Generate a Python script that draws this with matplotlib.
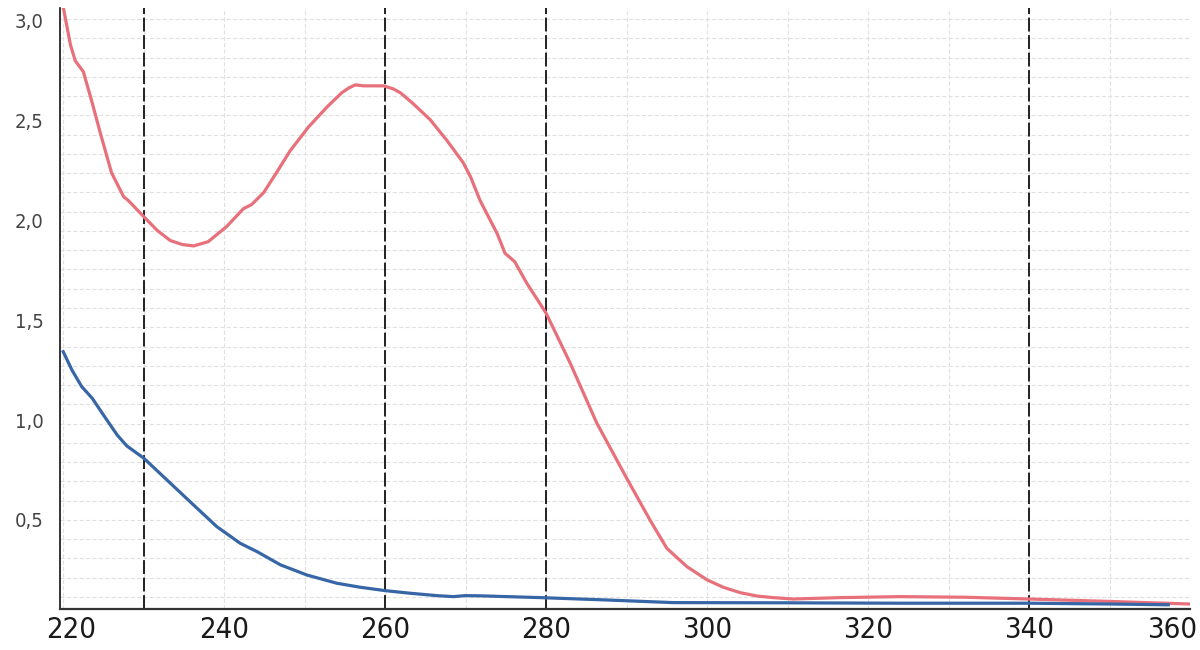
import matplotlib
matplotlib.use("Agg")
import matplotlib.pyplot as plt
from matplotlib import font_manager as fm
from matplotlib.ticker import FixedLocator, MultipleLocator, FuncFormatter
import matplotlib.transforms as mtransforms
import numpy as np

# ---------------- data ----------------
red_x = [220.0, 220.9, 221.5, 222.5, 223.6, 224.6, 226.0, 227.5, 228.1, 230.0,
         231.7, 233.3, 234.8, 236.2, 238.0, 240.3, 242.4, 243.4, 244.9, 246.5,
         248.2, 250.5, 252.8, 254.6, 255.5, 256.3, 257.3, 259.8, 261.0, 261.9,
         263.5, 265.6, 267.7, 269.7, 270.6, 271.8, 273.9, 274.9, 276.1, 277.6,
         280.0, 283.0, 286.3, 290.0, 292.9, 295.0, 297.5, 300.0, 302.0, 304.1,
         306.2, 308.2, 310.7, 316.5, 324.0, 332.0, 340.0, 350.0, 360.0]
red_y = [3.07, 2.88, 2.80, 2.746, 2.59, 2.44, 2.24, 2.12, 2.10, 2.02,
         1.95, 1.90, 1.88, 1.873, 1.894, 1.97, 2.06, 2.08, 2.14, 2.24,
         2.35, 2.47, 2.57, 2.64, 2.665, 2.68, 2.675, 2.675, 2.66, 2.64,
         2.585, 2.505, 2.40, 2.29, 2.22, 2.10, 1.936, 1.836, 1.794, 1.686,
         1.536, 1.285, 0.985, 0.71, 0.50, 0.358, 0.266, 0.20, 0.163, 0.136,
         0.119, 0.111, 0.104, 0.111, 0.116, 0.113, 0.104, 0.092, 0.079]

blue_x = [220.0, 221.1, 222.3, 223.6, 225.0, 226.7, 227.9, 230.0, 232.9, 236.2,
          239.1, 242.0, 244.1, 247.0, 250.3, 254.0, 256.9, 260.0, 263.1, 266.4,
          268.5, 269.9, 271.8, 279.3, 287.0, 295.8, 310.0, 324.0, 340.0, 350.0,
          357.3]
blue_y = [1.343, 1.25, 1.168, 1.11, 1.026, 0.926, 0.871, 0.81, 0.70, 0.575,
          0.466, 0.383, 0.341, 0.275, 0.224, 0.183, 0.163, 0.146, 0.133, 0.121,
          0.116, 0.121, 0.12, 0.111, 0.10, 0.086, 0.085, 0.083, 0.083, 0.079,
          0.075]

marker_wavelengths = [230, 260, 280, 340]

x_ticks = [220, 240, 260, 280, 300, 320, 340, 360]
y_ticks = [0.5, 1.0, 1.5, 2.0, 2.5, 3.0]

# ---------------- font ----------------
names = {f.name for f in fm.fontManager.ttflist}
if "Liberation Sans Narrow" in names:
    FONT = dict(family="Liberation Sans Narrow")
else:
    FONT = dict(family="DejaVu Sans", stretch="condensed")

plt.rcParams["lines.scale_dashes"] = False

fig = plt.figure(figsize=(12, 6.5), dpi=100)
ax = fig.add_axes([60 / 1200, 41 / 650, 1130 / 1200, 601 / 650])

RED = "#e8707a"
BLUE = "#3766a6"

# grid
ax.set_xlim(219.6, 360.0)
ax.set_ylim(0.054, 3.065)
ax.xaxis.set_major_locator(FixedLocator(x_ticks))
ax.xaxis.set_minor_locator(MultipleLocator(10))
ax.yaxis.set_major_locator(FixedLocator(y_ticks))
ax.yaxis.set_minor_locator(FixedLocator(np.linspace(0.114, 3.01, 31)))

grid_kw = dict(color="#e0e0e0", linewidth=0.8, linestyle=(0, (3, 1.6)))
ax.grid(True, which="both", axis="x", **grid_kw)
ax.grid(True, which="minor", axis="y", **grid_kw)
ax.grid(False, which="major", axis="y")
ax.set_axisbelow(True)

for wl in marker_wavelengths:
    ax.axvline(wl, color="#111111", linewidth=1.3, linestyle=(0, (10, 2.6)), zorder=2)

ax.plot(red_x, red_y, color=RED, linewidth=2.3, solid_joinstyle="round", zorder=3)
ax.plot(blue_x, blue_y, color=BLUE, linewidth=2.3, solid_joinstyle="round", zorder=3)

# spines
for s in ("top", "right"):
    ax.spines[s].set_visible(False)
ax.spines["left"].set_color("#111111")
ax.spines["left"].set_linewidth(1.2)
ax.spines["bottom"].set_color("#333333")
ax.spines["bottom"].set_linewidth(1.6)

ax.tick_params(axis="both", which="both", length=0)
ax.tick_params(axis="x", pad=5, labelsize=21, labelcolor="#1a1a1a")
ax.tick_params(axis="y", pad=12, labelsize=14.5, labelcolor="#444444")

ax.xaxis.set_major_formatter(FuncFormatter(lambda v, p: f"{v:.0f}"))
ax.yaxis.set_major_formatter(FuncFormatter(lambda v, p: f"{v:.1f}".replace(".", ",")))

for lab in ax.get_xticklabels() + ax.get_yticklabels():
    lab.set_fontproperties(fm.FontProperties(size=lab.get_fontsize(), **FONT))

# nudge first / last x labels inward as in the reference
xl = ax.get_xticklabels()
xl[0].set_transform(xl[0].get_transform() + mtransforms.ScaledTranslation(8 / 100, 0, fig.dpi_scale_trans))
xl[-1].set_transform(xl[-1].get_transform() + mtransforms.ScaledTranslation(-18 / 100, 0, fig.dpi_scale_trans))

fig.savefig("out.png", dpi=100)
